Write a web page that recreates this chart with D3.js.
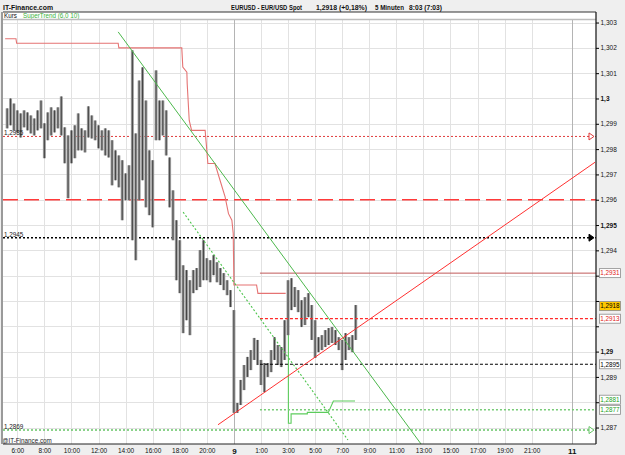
<!DOCTYPE html>
<html>
<head>
<meta charset="utf-8">
<script src="https://cdnjs.cloudflare.com/ajax/libs/d3/7.8.5/d3.min.js"></script>
<style>
  body { margin: 0; background: #efefef; }
  svg { display: block; font-family: "Liberation Sans", Arial, sans-serif; }
</style>
</head>
<body>
<div id="chart"></div>
<script>
// 15 minute bars, bar 0 = 5:15 (prices)
const barHigh = [
  1.29961, 1.30000, 1.29980, 1.29953, 1.29941, 1.29953, 1.29945, 1.29933, 1.29921, 1.29953,
  1.29992, 1.29902, 1.29945, 1.29965, 1.29953, 1.29965, 1.30008, 1.29886, 1.29854, 1.29874,
  1.29894, 1.29941, 1.29882, 1.29874, 1.29969, 1.29933, 1.29913, 1.29894, 1.29874, 1.29882,
  1.29874, 1.29835, 1.29795, 1.29775, 1.29756, 1.29704, 1.29736, 1.30190, 1.29862, 1.30071,
  1.30123, 1.29992, 1.29795, 1.29756, 1.30111, 1.29992, 1.29992, 1.29953, 1.29767, 1.29637,
  1.29519, 1.29440, 1.29341, 1.29322, 1.29282, 1.29322, 1.29330, 1.29401, 1.29440, 1.29369,
  1.29361, 1.29381, 1.29353, 1.29330, 1.29310, 1.29282, 1.29243, 1.29164, 1.28797, 1.28888,
  1.28947, 1.28979, 1.29006, 1.29054, 1.29046, 1.28967, 1.28955, 1.28955, 1.29006, 1.29057,
  1.29026, 1.29018, 1.29124, 1.29282, 1.29290, 1.29255, 1.29243, 1.29203, 1.29215, 1.29231,
  1.29184, 1.29124, 1.29057, 1.29065, 1.29085, 1.29093, 1.29097, 1.29085, 1.29057, 1.29046,
  1.29073, 1.29057, 1.29065, 1.29184
];
const barLow = [
  1.29882, 1.29894, 1.29874, 1.29866, 1.29846, 1.29886, 1.29874, 1.29862, 1.29854, 1.29874,
  1.29882, 1.29764, 1.29835, 1.29854, 1.29866, 1.29882, 1.29854, 1.29744, 1.29606, 1.29744,
  1.29764, 1.29795, 1.29795, 1.29787, 1.29846, 1.29842, 1.29835, 1.29803, 1.29795, 1.29775,
  1.29767, 1.29657, 1.29677, 1.29649, 1.29519, 1.29598, 1.29598, 1.29440, 1.29361, 1.29598,
  1.29677, 1.29570, 1.29539, 1.29491, 1.29835, 1.29835, 1.29854, 1.29775, 1.29570, 1.29440,
  1.29282, 1.29231, 1.29073, 1.29124, 1.29065, 1.29231, 1.29243, 1.29255, 1.29282, 1.29282,
  1.29274, 1.29302, 1.29274, 1.29263, 1.29243, 1.29223, 1.29176, 1.28758, 1.28758, 1.28789,
  1.28848, 1.28900, 1.28927, 1.28967, 1.28947, 1.28868, 1.28840, 1.28900, 1.28919, 1.28967,
  1.28947, 1.28939, 1.28967, 1.29065, 1.29164, 1.29176, 1.29156, 1.29097, 1.29105, 1.29136,
  1.29046, 1.28975, 1.28998, 1.29006, 1.29018, 1.29026, 1.29034, 1.29026, 1.29006, 1.28927,
  1.28967, 1.29006, 1.28998, 1.29046
];

// SuperTrend (6,0 10) as [bar, price]
const superRed = [
  [-0.6, 1.30236], [2.6, 1.30236], [2.8, 1.30218], [32.8, 1.30218], [33.0, 1.30200],
  [51.6, 1.30200], [51.9, 1.30124], [53.1, 1.30104], [53.2, 1.30058], [53.8, 1.29913],
  [54.5, 1.29874], [58.5, 1.29874], [59.0, 1.29795], [59.3, 1.29743], [61.4, 1.29743],
  [62.9, 1.29677], [64.4, 1.29611], [65.4, 1.29545], [66.4, 1.29519], [66.8, 1.29467],
  [67.0, 1.29263], [73.7, 1.29263], [74.1, 1.29230], [82.3, 1.29230]
];
const superGreen = [
  [83.1, 1.29230], [83.1, 1.28717], [83.9, 1.28717], [83.9, 1.28754], [88.7, 1.28754],
  [88.7, 1.28760], [94.9, 1.28760], [96.4, 1.28805], [102.8, 1.28805]
];

// drawn trend lines [bar, price]
const greenTrend = [[32.8, 1.30263], [122.3, 1.28635]];
const greenDotTrend = [[52.0, 1.29551], [100.7, 1.28651]];
const redTrend = [[62.3, 1.28711], [173.7, 1.29748]];

// horizontal levels
const fullLevels = [
  { v: 1.2985, label: "1,2985", color: "#e03c3c", dash: "2,2", w: 1, arrow: "open" },
  { v: 1.296, label: null, color: "#ff3a3a", dash: "15,6", w: 1.6, arrow: null },
  { v: 1.2945, label: "1,2945", color: "#000", dash: "2,2", w: 1.5, arrow: "fill" },
  { v: 1.2869, label: "1,2869", color: "#66c466", dash: "2,2", w: 1.5, arrow: "open" }
];
const shortLevels = [
  { v: 1.2931, color: "#c05a5a", dash: null, w: 1 },
  { v: 1.2913, color: "#ff2a2a", dash: "3,2", w: 1.2 },
  { v: 1.2895, color: "#000", dash: "3,2", w: 1.2 },
  { v: 1.2877, color: "#77cc77", dash: "2,2", w: 1.5 }
];
const levelStartBar = 74.7;

// price boxes on the right axis
const boxValues = [1.2931, 1.2918, 1.2913, 1.2895, 1.2881, 1.2877];
const boxText = ["1,2931", "1,2918", "1,2913", "1,2895", "1,2881", "1,2877"];
const boxColors = ["#e02020", "#000", "#e02020", "#000", "#20a020", "#20a020"];

// x axis
const tickBars = [3, 11, 19, 27, 35, 43, 51, 59, 67, 75, 83, 91, 99, 107, 115, 123, 131, 139, 147, 155, 166.8];
const tickLabels = ["6:00", "8:00", "10:00", "12:00", "14:00", "16:00", "18:00", "20:00", "9",
  "1:00", "3:00", "5:00", "7:00", "9:00", "11:00", "13:00", "15:00", "17:00", "19:00", "21:00", "11"];
const dayTicks = ["9", "11"];

// title pieces (the original font is condensed, so each piece gets its width)
const titleParts = ["EURUSD - EUR/USD Spot", "1,2918 (+0,18%)", "5 Minuten", "8:03 (7:03)"];
const titleX = [231, 316, 375, 409];
const titleLen = [71, 51, 29, 33];

const priceTicks = d3.range(1.287, 1.30301, 0.001);

const W = 625, H = 455;
const plot = { left: 3, right: 596, top: 19.5, bottom: 444 };

const svg = d3.select("#chart").append("svg").attr("width", W).attr("height", H);
svg.append("rect").attr("width", W).attr("height", H).attr("fill", "#efefef");

const x = d3.scaleLinear().domain([-1.23, 174.0]).range([plot.left, plot.right]);
const y = d3.scaleLinear().domain([1.28635, 1.30312]).range([plot.bottom, plot.top]);

const fmt = v => String(+v.toFixed(4)).replace(".", ",");

// header
svg.append("text").attr("x", 3).attr("y", 9.5).attr("font-size", 7.6).attr("font-weight", "bold")
  .attr("textLength", 50).attr("lengthAdjust", "spacingAndGlyphs")
  .attr("fill", "#111").text("IT-Finance.com");
svg.selectAll(".title").data(titleParts).enter().append("text")
  .attr("x", (d, i) => titleX[i]).attr("y", 9.5).attr("font-size", 6.9).attr("font-weight", "bold")
  .attr("textLength", (d, i) => titleLen[i]).attr("lengthAdjust", "spacingAndGlyphs")
  .attr("fill", "#111").text(d => d);

// legend strip
svg.append("rect").attr("x", plot.left).attr("y", 12).attr("width", plot.right - plot.left).attr("height", 7.5)
  .attr("fill", "#fff");
svg.append("line").attr("x1", plot.left).attr("x2", plot.right).attr("y1", 12).attr("y2", 12)
  .attr("stroke", "#333").attr("stroke-width", 1);
svg.append("text").attr("x", 4).attr("y", 18).attr("font-size", 6.3).attr("fill", "#111").text("Kurs");
svg.append("text").attr("x", 23).attr("y", 18).attr("font-size", 6.3).attr("fill", "#3cb43c").text("SuperTrend (6,0 10)");

// plot area
svg.append("rect").attr("x", plot.left).attr("y", plot.top).attr("width", plot.right - plot.left)
  .attr("height", plot.bottom - plot.top).attr("fill", "#fff");

svg.append("defs").append("clipPath").attr("id", "clip").append("rect")
  .attr("x", plot.left).attr("y", plot.top).attr("width", plot.right - plot.left)
  .attr("height", plot.bottom - plot.top);

const g = svg.append("g").attr("clip-path", "url(#clip)");

// grid
g.selectAll(".hgrid").data(priceTicks).enter().append("line")
  .attr("x1", plot.left).attr("x2", plot.right)
  .attr("y1", d => Math.round(y(d)) + 0.5).attr("y2", d => Math.round(y(d)) + 0.5)
  .attr("stroke", "#e2e2e2");
g.selectAll(".vgrid").data(tickBars).enter().append("line")
  .attr("x1", d => Math.round(x(d)) + 0.5).attr("x2", d => Math.round(x(d)) + 0.5)
  .attr("y1", plot.top).attr("y2", plot.bottom)
  .attr("stroke", (d, i) => dayTicks.includes(tickLabels[i]) ? "#b4b4b4" : "#e2e2e2");

// full width levels
fullLevels.forEach(l => {
  g.append("line").attr("x1", plot.left).attr("x2", plot.right)
    .attr("y1", y(l.v)).attr("y2", y(l.v))
    .attr("stroke", l.color).attr("stroke-width", l.w).attr("stroke-dasharray", l.dash);
});

// supertrend
const line = d3.line().x(d => x(d[0])).y(d => y(d[1]));
g.append("path").attr("d", line(superRed)).attr("fill", "none")
  .attr("stroke", "#e57373").attr("stroke-width", 1.1);
g.append("path").attr("d", line(superGreen)).attr("fill", "none")
  .attr("stroke", "#5ccc5c").attr("stroke-width", 1.1);

// price bars
const bars = g.append("g");
barHigh.forEach((h, i) => {
  bars.append("rect").attr("x", x(i) - 1.5).attr("width", 3)
    .attr("y", y(h)).attr("height", Math.max(1, y(barLow[i]) - y(h)))
    .attr("fill", "#9c9c9c");
  bars.append("line").attr("x1", x(i)).attr("x2", x(i))
    .attr("y1", y(h)).attr("y2", y(barLow[i]))
    .attr("stroke", "#3a3a3a").attr("stroke-width", 0.9);
});

// short levels from the low on
shortLevels.forEach(l => {
  g.append("line").attr("x1", x(levelStartBar)).attr("x2", plot.right)
    .attr("y1", y(l.v)).attr("y2", y(l.v))
    .attr("stroke", l.color).attr("stroke-width", l.w).attr("stroke-dasharray", l.dash);
});

// trend lines
g.append("path").attr("d", line(greenTrend)).attr("stroke", "#4cb84c").attr("stroke-width", 1).attr("fill", "none");
g.append("path").attr("d", line(greenDotTrend)).attr("stroke", "#4cc44c").attr("stroke-width", 1.1)
  .attr("stroke-dasharray", "2,2").attr("fill", "none");
g.append("path").attr("d", line(redTrend)).attr("stroke", "#ff3030").attr("stroke-width", 1).attr("fill", "none");

// left labels and right arrows of full levels
fullLevels.filter(l => l.label).forEach(l => {
  g.append("text").attr("x", 4).attr("y", y(l.v) - 1).attr("font-size", 6.3).attr("fill", "#222").text(l.label);
  const yy = y(l.v);
  g.append("path")
    .attr("d", `M${plot.right - 7},${yy - 3.5}L${plot.right - 2},${yy}L${plot.right - 7},${yy + 3.5}Z`)
    .attr("fill", l.arrow === "fill" ? l.color : "#fff").attr("stroke", l.color).attr("stroke-width", 1);
});

g.append("text").attr("x", 2).attr("y", 443).attr("font-size", 6.3).attr("fill", "#222").text("@IT-Finance.com");

// frame
svg.append("line").attr("x1", 2).attr("x2", 2).attr("y1", 12).attr("y2", plot.bottom)
  .attr("stroke", "#9a9a9a").attr("stroke-width", 2);
svg.append("line").attr("x1", plot.left).attr("x2", plot.right).attr("y1", plot.top).attr("y2", plot.top)
  .attr("stroke", "#bcbcbc").attr("stroke-width", 1.5);
svg.append("line").attr("x1", plot.left).attr("x2", plot.right).attr("y1", plot.bottom).attr("y2", plot.bottom)
  .attr("stroke", "#222").attr("stroke-width", 1);

// right axis; labels hidden where a price box sits on top of them
const covered = d => boxValues.some(v => Math.abs(y(v) - y(d)) < 8);
const yAxis = svg.append("g").attr("transform", `translate(${plot.right},0)`)
  .call(d3.axisRight(y).tickValues(priceTicks).tickSize(3).tickPadding(1.5)
    .tickFormat(d => covered(d) ? "" : fmt(d)));
yAxis.select(".domain").attr("d", `M0,12V${plot.bottom}`).attr("stroke", "#222").attr("stroke-width", 1.3);
yAxis.selectAll("text").attr("font-size", 6.5).attr("fill", "#111")
  .attr("font-family", '"Liberation Sans", Arial, sans-serif')
  .attr("font-weight", d => Math.round(d * 1000) % 5 === 0 ? "bold" : "normal");

// price boxes
const boxes = svg.append("g");
boxValues.forEach((v, i) => {
  boxes.append("rect").attr("x", 599.5).attr("y", y(v) - 4.5).attr("width", 21).attr("height", 9)
    .attr("fill", i === 1 ? "#ffc800" : "#fff").attr("stroke", "#8c8c8c").attr("stroke-width", 0.8);
  boxes.append("text").attr("x", 610).attr("y", y(v) + 2.3).attr("text-anchor", "middle")
    .attr("font-size", 6.3).attr("fill", boxColors[i]).text(boxText[i]);
});

// bottom axis
const xAxis = svg.append("g").attr("transform", `translate(0,${plot.bottom})`)
  .call(d3.axisBottom(x).tickValues(tickBars).tickSize(0).tickPadding(4)
    .tickFormat((d, i) => tickLabels[i]));
xAxis.select(".domain").remove();
xAxis.selectAll("text").attr("fill", "#111")
  .attr("font-family", '"Liberation Sans", Arial, sans-serif')
  .attr("font-weight", (d, i) => dayTicks.includes(tickLabels[i]) ? "bold" : "normal")
  .attr("font-size", (d, i) => dayTicks.includes(tickLabels[i]) ? 8 : 6.5);
</script>
</body>
</html>
